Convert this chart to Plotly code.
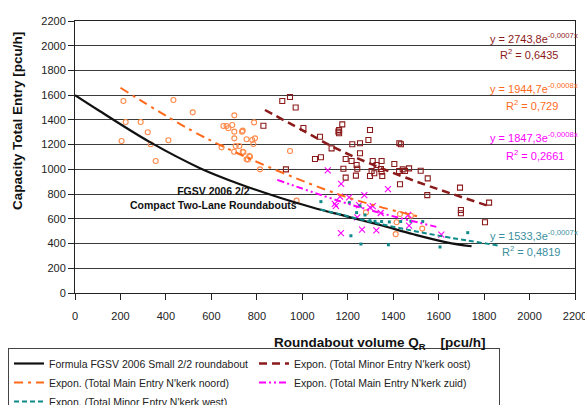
import plotly.graph_objects as go

# ---------------- data ----------------
# FGSV 2006 formula curve
fgsv_x = [0, 110, 330, 550, 726, 902, 1049, 1195, 1342, 1489, 1635, 1745]
fgsv_y = [1600, 1470, 1220, 1010, 880, 770, 690, 620, 550, 475, 410, 378]

# Total Main Entry N'kerk noord (orange circles)
noord_x = [213, 433, 518, 701, 223, 289, 320, 205, 333, 411, 355,
           653, 667, 692, 675, 701, 735, 701, 755, 645, 707, 723, 741, 755,
           788, 792, 785, 770, 814, 946, 738, 700, 738, 761, 780, 767,
           975, 1280, 1415, 1430, 1411, 1528, 1478]
noord_y = [1553, 1561, 1461, 1437, 1383, 1383, 1300, 1229, 1203, 1235, 1068,
           1351, 1351, 1359, 1332, 1305, 1305, 1251, 1243, 1178, 1189, 1189, 1138, 1081,
           1380, 1251, 1205, 1102, 1000, 1148, 1313, 1143, 1143, 1080, 1237, 1108,
           747, 652, 572, 639, 476, 521, 625]

# Total Minor Entry N'kerk oost (dark red squares)
oost_x = [829, 912, 946, 971, 1005, 928, 1078, 1129, 1056, 1082, 1159,
          1176, 1162, 1162, 1298, 1291, 1220, 1254, 1254, 1191, 1217, 1181, 1239, 1242,
          1236, 1191, 1310, 1349, 1327, 1346, 1305, 1317, 1298, 1352, 1349, 1405, 1427,
          1434, 1426, 1442, 1452, 1470, 1430, 1521, 1552, 1550, 1694, 1822, 1698, 1698, 1804]
oost_y = [1353, 1553, 1585, 1500, 1335, 1000, 1264, 1170, 1084, 1098, 1305,
          1364, 1318, 1292, 1318, 1237, 1203, 1211, 1130, 1084, 1068, 1005, 1035, 1005,
          949, 933, 1068, 1068, 1035, 1003, 987, 968, 946, 946, 981, 1043, 1211,
          1203, 987, 1000, 987, 1008, 879, 989, 927, 792, 852, 731, 671, 645, 572]

# Total Main Entry N'kerk zuid (magenta crosses)
zuid_x = [1112, 1171, 1377, 1273, 1166, 1206, 1143, 1148, 1250, 1310, 1345,
          1242, 1170, 1263, 1326, 1466, 1470, 1612, 1298]
zuid_y = [992, 882, 840, 792, 779, 774, 720, 705, 710, 703, 647,
          612, 485, 512, 507, 631, 545, 472, 693]

# Total Minor Entry N'kerk west (teal small squares)
west_x = [1082, 1207, 1254, 1239, 1276, 1298, 1320, 1349, 1383, 1433, 1478,
          1530, 1214, 1258, 1379, 1606, 1728]
west_y = [739, 731, 704, 650, 631, 585, 580, 578, 575, 578, 580,
          578, 463, 396, 390, 372, 488]

# exponential trend lines
oost_tr_x = [836, 997, 1173, 1452, 1830]
oost_tr_y = [1480, 1320, 1148, 935, 698]
noord_tr_x = [200, 590, 1165, 1520]
noord_tr_y = [1660, 1240, 795, 615]
zuid_tr_x = [890, 1240, 1590]
zuid_tr_y = [915, 700, 535]
west_tr_x = [1080, 1340, 1600, 1870]
west_tr_y = [676, 560, 464, 382]

x_ticks = [0, 200, 400, 600, 800, 1000, 1200, 1400, 1600, 1800, 2000, 2200]
y_ticks = [0, 200, 400, 600, 800, 1000, 1200, 1400, 1600, 1800, 2000, 2200]

# ---------------- styling ----------------
C_BLACK = "#111111"
C_RED = "#8B1A1A"
C_ORANGE = "#FF6A1A"
C_ORANGE_PT = "#FF8A4A"
C_MAG = "#FF00FF"
C_TEAL = "#0E8A8A"
C_TEAL_TXT = "#3A8E9E"
FONT = "Liberation Sans, Arial, sans-serif"

fig = go.Figure()

# scatter points
fig.add_trace(go.Scatter(x=noord_x, y=noord_y, mode="markers", showlegend=False,
                         marker=dict(symbol="circle-open", size=5, color=C_ORANGE_PT,
                                     line=dict(width=1.1, color=C_ORANGE_PT))))
fig.add_trace(go.Scatter(x=oost_x, y=oost_y, mode="markers", showlegend=False,
                         marker=dict(symbol="square-open", size=5, color=C_RED,
                                     line=dict(width=1.1, color=C_RED))))
fig.add_trace(go.Scatter(x=zuid_x, y=zuid_y, mode="markers", showlegend=False,
                         marker=dict(symbol="x-thin-open", size=6, color=C_MAG,
                                     line=dict(width=1.1, color=C_MAG))))
fig.add_trace(go.Scatter(x=west_x, y=west_y, mode="markers", showlegend=False,
                         marker=dict(symbol="square", size=3, color=C_TEAL,
                                     line=dict(width=0))))

# lines (legend order: formula, oost, noord, zuid, west)
fig.add_trace(go.Scatter(x=fgsv_x, y=fgsv_y, mode="lines", line_shape="spline",
                         name="Formula FGSV 2006 Small 2/2 roundabout",
                         line=dict(color=C_BLACK, width=2.2)))
fig.add_trace(go.Scatter(x=oost_tr_x, y=oost_tr_y, mode="lines", line_shape="spline",
                         name="Expon. (Total Minor Entry N'kerk oost)",
                         line=dict(color=C_RED, width=2.5, dash="8px,5px")))
fig.add_trace(go.Scatter(x=noord_tr_x, y=noord_tr_y, mode="lines", line_shape="spline",
                         name="Expon. (Total Main Entry N'kerk noord)",
                         line=dict(color=C_ORANGE, width=2, dash="9px,5px,3px,5px")))
fig.add_trace(go.Scatter(x=zuid_tr_x, y=zuid_tr_y, mode="lines", line_shape="spline",
                         name="Expon. (Total Main Entry N'kerk zuid)",
                         line=dict(color=C_MAG, width=2, dash="7px,3px,2px,3px,2px,3px")))
fig.add_trace(go.Scatter(x=west_tr_x, y=west_tr_y, mode="lines", line_shape="spline",
                         name="Expon. (Total Minor Entry N'kerk west)",
                         line=dict(color=C_TEAL, width=2, dash="5px,3px")))

L, R, T, B = 75, 575, 21, 293
W, H = 585, 405


def px_x(p):
    return (p - L) / (R - L)


def px_y(p):
    return (B - p) / (B - T)


ann = []


def add_text(text, x, y, color, size=11, xanchor="right", bold=False, angle=0, align="left"):
    if bold:
        text = "<b>" + text + "</b>"
    ann.append(dict(text=text, x=px_x(x), y=px_y(y), xref="paper", yref="paper",
                    xanchor=xanchor, yanchor="middle", showarrow=False, textangle=angle,
                    align=align, font=dict(family=FONT, size=size, color=color)))


add_text("y = 2743,8e<sup>-0,0007x</sup>", 580, 38, C_RED)
add_text("R<sup>2</sup> = 0,6435", 560, 54, C_RED)
add_text("y = 1944,7e<sup>-0,0008x</sup>", 580, 88, C_ORANGE)
add_text("R<sup>2</sup> = 0,729", 560, 105, C_ORANGE)
add_text("y = 1847,3e<sup>-0,0008x</sup>", 580, 137, C_MAG)
add_text("R<sup>2</sup> = 0,2661", 566, 155, C_MAG)
add_text("y = 1533,3e<sup>-0,0007x</sup>", 580, 235, C_TEAL_TXT)
add_text("R<sup>2</sup> = 0,4819", 562, 251, C_TEAL_TXT)
add_text("FGSV 2006 2/2<br>Compact Two-Lane Roundabouts", 213, 198, "#111111",
         size=10.5, xanchor="center", bold=True, align="center")
add_text("Roundabout volume Q<sub>R</sub>    [pcu/h]", 380, 343, "#111111",
         size=13.5, xanchor="center", bold=True)
add_text("Capacity Total Entry [pcu/h]", 17, 121, "#111111",
         size=13.5, xanchor="center", bold=True, angle=-90)

fig.update_layout(
    width=W, height=H,
    margin=dict(l=L, r=W - R, t=T, b=H - B, autoexpand=False),
    paper_bgcolor="white", plot_bgcolor="white",
    font=dict(family=FONT, size=11, color="#222222"),
    annotations=ann,
    showlegend=True,
    legend=dict(orientation="h", x=px_x(8), y=px_y(348), xanchor="left", yanchor="top",
                bordercolor="#444444", borderwidth=1, bgcolor="white",
                entrywidth=200, entrywidthmode="pixels", tracegroupgap=0,
                itemwidth=30,
                font=dict(family=FONT, size=10.5, color="#222222")),
)
fig.update_xaxes(range=[0, 2200], tickvals=x_ticks, showgrid=False, zeroline=False,
                 showline=True, linecolor="#222222", linewidth=1, mirror=True,
                 ticks="outside", ticklen=6, tickcolor="#222222",
                 ticklabelstandoff=7, ticklabeloverflow="allow",
                 tickfont=dict(family=FONT, size=11, color="#222222"))
fig.update_yaxes(range=[0, 2200], tickvals=y_ticks, showgrid=True, gridcolor="#3a3a3a",
                 gridwidth=1.2, zeroline=False,
                 showline=True, linecolor="#222222", linewidth=1, mirror=True,
                 ticks="outside", ticklen=6, tickcolor="#222222",
                 tickfont=dict(family=FONT, size=11, color="#222222"))

fig.write_html("out.html")
